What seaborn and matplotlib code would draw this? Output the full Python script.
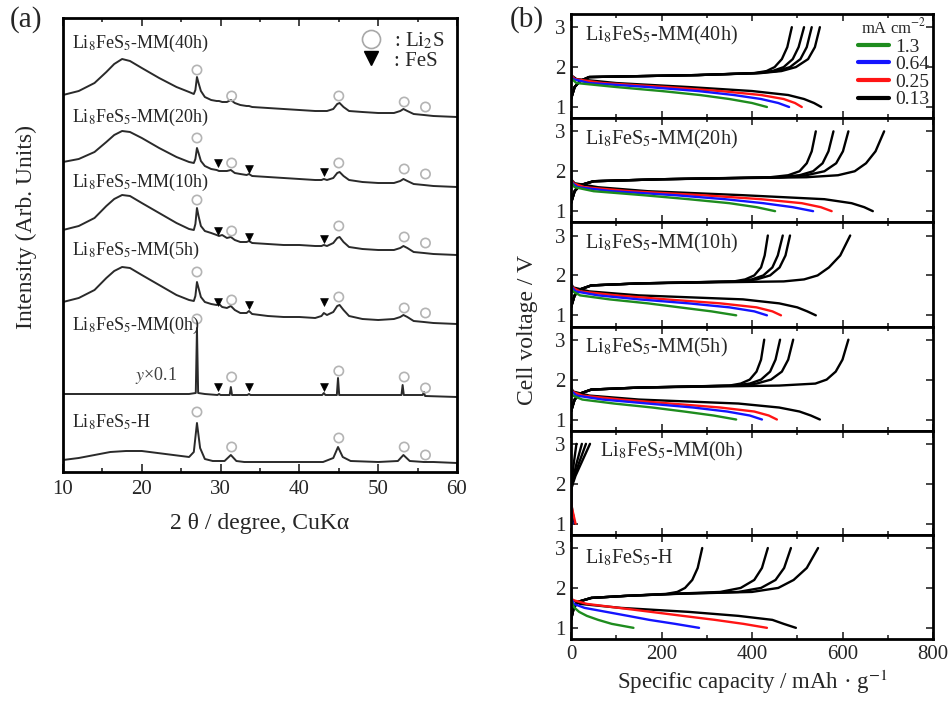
import numpy as np
import pandas as pd
import matplotlib.pyplot as plt
from matplotlib.lines import Line2D
from matplotlib.ticker import MultipleLocator
import seaborn as sns

sns.set_theme(style='ticks')
plt.rcParams['font.family'] = ['Liberation Serif', 'DejaVu Serif']
plt.rcParams['mathtext.fontset'] = 'stix'
plt.rcParams['xtick.direction'] = 'in'
plt.rcParams['ytick.direction'] = 'in'

# ---------------------------------------------------------
# (a) XRD data (arb. units, stacked with offsets)
# ---------------------------------------------------------
xrd_x = [10, 12, 14, 15.5, 16.5, 17.5, 18.5, 20, 22.2, 24.4, 26, 26.6, 26.8, 27.0, 27.2, 27.5,
         28.0, 28.8, 29.5, 29.8, 30.2, 30.8, 31.3, 31.8, 32.5, 33.3, 33.6, 34.0, 36, 38, 40, 42,
         42.8, 43.1, 43.5, 44.3, 44.8, 45.1, 45.6, 46.3, 48, 50, 52, 52.8, 53.2, 53.7, 54.5,
         55.8, 57, 60]
mm40h = [0, 4, 12, 23, 31, 36, 34, 27, 17, 8, 3, 1, 5, 18, 12, 4,
         -2, -5, -6, -6, -7, -7, -5, -8, -10, -11, -11, -12, -13, -14, -15, -16,
         -16, -16, -16, -14, -9, -8, -12, -16, -17, -18, -18, -16, -14, -16, -19,
         -20, -21, -22]
mm20h = [0, 3, 10, 20, 27, 31, 30, 24, 14, 5, 0, -1, 3, 14, 9, 1,
         -4, -7, -8, -9, -9, -9, -8, -11, -12, -13, -12, -14, -15, -16, -17, -18,
         -18, -17, -18, -16, -11, -10, -14, -18, -20, -21, -21, -19, -17, -19, -22,
         -23, -24, -25]
mm10h = [0, 4, 12, 24, 31, 35, 34, 27, 17, 7, 1, 0, 6, 22, 14, 4,
         -1, -3, -5, -6, -5, -8, -7, -10, -12, -12, -11, -13, -14, -15, -15, -16,
         -16, -15, -16, -13, -8, -7, -12, -17, -19, -20, -20, -18, -16, -18, -22,
         -23, -24, -25]
mm5h = [0, 4, 12, 24, 31, 35, 34, 27, 17, 7, 2, 1, 6, 20, 14, 5,
        0, -2, -3, -2, -5, -6, -4, -8, -11, -11, -9, -12, -14, -15, -15, -16,
        -14, -11, -13, -10, -4, -3, -8, -14, -17, -18, -17, -15, -13, -15, -19,
        -20, -21, -22]
xrd_x_0h = [10, 20, 26, 26.85, 27.0, 27.15, 28, 29.6, 29.8, 30.0, 31.15, 31.3, 31.45, 33.4,
            33.6, 33.8, 40, 42.9, 43.1, 43.3, 44.75, 44.9, 45.05, 52.95, 53.1, 53.25, 55.65,
            55.8, 55.95, 60]
mm0h = [0, 0, 0, 1, 66, 1, 0, -1, 0, -1, -1, 7, -1, -1, 0, -1, -1, -1, 1, -1, -1, 16, -1,
        -1, 9, -1, -1, 2, -2, -3]
xrd_x_h = [10, 12, 14, 16, 18, 20, 22, 24, 26, 26.6, 27.0, 27.4, 28, 29, 30.5, 31.3, 32, 33,
           36, 40, 43, 44.3, 44.9, 45.5, 46.5, 50, 52.5, 53.2, 54, 55.8, 57, 60]
heat = [0, 2, 5, 8, 9, 9, 7, 5, 3, 8, 37, 12, 1, -1, -1, 5, -1, -2, -2, -2, -2, 2, 13, 3, -1,
        -2, -1, 5, -1, -2, -2, -3]
offsets = [377, 310, 242, 170, 78, 12]
sample_labels = ['MM(40h)', 'MM(20h)', 'MM(10h)', 'MM(5h)', 'MM(0h)', 'H']
label_y = [429, 355, 290, 222, 147, 50]

li2s_x = [27.0, 31.4, 45.0, 53.3, 56.0]
li2s_y = [[402, 376, 376, 370, 365], [334, 309, 309, 303, 298], [272, 241, 246, 235, 229],
          [200, 172, 175, 164, 159], [153, 95, 101, 95, 84], [60, 25, 34, 25, 17]]
fes_x = [29.7, 33.6, 43.1]
fes_y = [[309, 303, 300], [241, 235, 233], [170, 167, 170], [85, 85, 85]]

# ---------------------------------------------------------
# (b) charge / discharge data: capacity (mAh/g) read at fixed voltages
# ---------------------------------------------------------
currents = ['1.3', '0.64', '0.25', '0.13']
cur_colors = ['#1e8c1e', '#1414ff', '#ff1414', 'black']
dis_v = [2.0, 1.8, 1.7, 1.6, 1.5, 1.4, 1.3, 1.2, 1.1, 1.0]
chg_v = [1.2, 1.5, 1.65, 1.75, 1.8, 1.85, 1.9, 2.0, 2.2, 2.5, 3.0]

dis_40h = [[0, 0, 2, 12, 100, 200, 285, 350, 400, 433],
           [0, 0, 4, 40, 170, 280, 360, 420, 458, 482],
           [0, 0, 8, 70, 210, 330, 420, 470, 495, 510],
           [0, 0, 12, 100, 260, 400, 480, 515, 537, 553]]
chg_40h = [[0, 8, 20, 40, 280, 405, 432, 450, 466, 478, 488],
           [0, 8, 20, 40, 280, 410, 445, 470, 490, 503, 515],
           [0, 8, 20, 40, 280, 415, 455, 484, 507, 521, 532],
           [0, 8, 20, 40, 280, 420, 465, 497, 524, 539, 550]]
dis_20h = [[0, 0, 2, 8, 50, 160, 260, 350, 410, 451],
           [0, 0, 3, 15, 90, 230, 340, 425, 490, 535],
           [0, 0, 5, 30, 130, 290, 420, 510, 552, 576],
           [0, 0, 8, 60, 170, 380, 560, 620, 648, 667]]
chg_20h = [[0, 8, 20, 50, 200, 440, 480, 505, 521, 532, 541],
           [0, 8, 20, 50, 200, 460, 505, 535, 556, 569, 580],
           [0, 8, 20, 50, 200, 470, 520, 560, 586, 601, 613],
           [0, 8, 20, 50, 200, 520, 590, 627, 652, 673, 692]]
dis_10h = [[0, 0, 1, 4, 20, 85, 170, 240, 310, 365],
           [0, 0, 2, 10, 60, 150, 260, 350, 405, 433],
           [0, 0, 3, 20, 100, 210, 330, 410, 445, 464],
           [0, 0, 5, 40, 150, 380, 460, 500, 522, 541]]
chg_10h = [[0, 8, 20, 45, 150, 360, 385, 405, 420, 428, 435],
           [0, 8, 20, 45, 150, 370, 400, 425, 445, 457, 468],
           [0, 8, 20, 45, 150, 375, 410, 440, 461, 474, 484],
           [0, 8, 20, 45, 150, 470, 515, 545, 570, 595, 617]]
dis_5h = [[0, 0, 1, 4, 25, 95, 180, 250, 315, 365],
          [0, 0, 2, 12, 70, 170, 270, 345, 395, 422],
          [0, 0, 3, 25, 110, 220, 330, 405, 437, 455],
          [0, 0, 5, 40, 150, 370, 460, 505, 530, 550]]
chg_5h = [[0, 8, 20, 45, 150, 350, 375, 395, 410, 420, 427],
          [0, 8, 20, 45, 150, 360, 395, 420, 440, 452, 462],
          [0, 8, 20, 45, 150, 370, 410, 442, 466, 480, 491],
          [0, 8, 20, 45, 150, 460, 540, 565, 585, 600, 613]]
dis_0h = [[0, 0, 0, 0, 0, 0, 0, 0, 0.5, 1],
          [0, 0, 0, 0, 0, 0.5, 1, 1.5, 2, 3],
          [0, 0, 0, 0, 1, 2, 4, 6, 8, 10],
          [0, 0, 0, 0, 1, 2, 3, 5, 6, 8]]
chg_0h = [[0, 0, 0, 0, 0, 0, 0.5, 1, 3, 6, 12],
          [0, 0, 0, 0, 0, 0, 1, 2, 6, 12, 24],
          [0, 0, 0, 0, 0, 0.5, 1.5, 3, 8, 17, 33],
          [0, 0, 0, 0, 0, 0.5, 1.5, 4, 10, 22, 42]]
dis_h = [[0, 0, 1, 3, 8, 18, 35, 60, 90, 138],
         [0, 0, 2, 6, 30, 78, 126, 173, 230, 283],
         [0, 0, 3, 35, 106, 177, 247, 318, 381, 433],
         [0, 0, 3, 20, 110, 260, 370, 445, 470, 497]]
chg_h = [[0, 6, 15, 45, 120, 210, 235, 252, 268, 280, 290],
         [0, 6, 15, 45, 120, 220, 330, 375, 405, 422, 435],
         [0, 6, 15, 45, 120, 225, 370, 420, 452, 471, 486],
         [0, 6, 15, 45, 120, 230, 400, 458, 492, 521, 546]]

panel_dis = [dis_40h, dis_20h, dis_10h, dis_5h, dis_0h, dis_h]
panel_chg = [chg_40h, chg_20h, chg_10h, chg_5h, chg_0h, chg_h]
panel_label_x = [30, 30, 30, 30, 64, 30]
panel_label_y = [2.8, 2.8, 2.8, 2.8, 2.8, 2.75]

# ---------------------------------------------------------
# figure
# ---------------------------------------------------------
W, H = 952, 701
fig = plt.figure(figsize=(W / 100, H / 100), dpi=100)

# ---- (a) ----
ax = fig.add_axes([63 / W, 1 - 472 / H, 394 / W, 454 / H])
profiles = [(xrd_x, mm40h), (xrd_x, mm20h), (xrd_x, mm10h), (xrd_x, mm5h),
            (xrd_x_0h, mm0h), (xrd_x_h, heat)]
for (xs, ys), off in zip(profiles, offsets):
    sns.lineplot(x=xs, y=np.array(ys) + off, ax=ax, color='#2a2a2a', lw=1.4,
                 sort=False, estimator=None)
for ys in li2s_y:
    sns.scatterplot(x=li2s_x, y=ys, ax=ax, marker='o', s=45, facecolor='none',
                    edgecolor='#b4b4b4', linewidth=1.2, zorder=3)
for ys in fes_y:
    sns.scatterplot(x=fes_x, y=ys, ax=ax, marker='v', s=32, color='black',
                    edgecolor='black', zorder=3)
for name, ly in zip(sample_labels, label_y):
    ax.text(11.1, ly, 'Li$_8$FeS$_5$-' + name, fontsize=13, va='center', ha='left')
ax.text(21.8, 97, '$y$×0.1', fontsize=13, ha='center', va='center', color='#404040')

ax.set_xlim(10, 60)
ax.set_ylim(0, 454)
ax.set_yticks([])
ax.xaxis.set_major_locator(MultipleLocator(10))
ax.xaxis.set_minor_locator(MultipleLocator(5))
ax.tick_params(axis='x', which='both', top=True, bottom=True, labelsize=15, width=1.2)
ax.tick_params(axis='x', which='major', length=6, pad=6)
ax.tick_params(axis='x', which='minor', length=3)
for s in ax.spines.values():
    s.set_linewidth(2)
    s.set_color('black')
ax.set_xlabel('2 θ / degree, CuKα', fontsize=17, labelpad=10)
ax.set_ylabel('Intensity (Arb. Units)', fontsize=17)
ax.yaxis.set_label_coords(-0.065, 0.54)

leg_handles = [Line2D([], [], marker='o', mfc='none', mec='#a8a8a8', ms=13, ls='none', mew=1.2),
               Line2D([], [], marker='v', color='black', ms=10, ls='none')]
ax.legend(leg_handles, [': Li$_2$S', ': FeS'], loc='upper right', frameon=False,
          fontsize=15, handletextpad=0.1, labelspacing=0.0, borderaxespad=0.2)

fig.text(26 / W, 1 - 20 / H, '(a)', fontsize=21, ha='center', va='center')

# ---- (b) ----
ph = 104.17
axes_b = []
for i in range(6):
    axb = fig.add_axes([571 / W, 1 - (14 + ph * (i + 1)) / H, 362 / W, ph / H])
    axes_b.append(axb)
    for caps in panel_chg[i]:
        sns.lineplot(x=caps, y=chg_v, ax=axb, color='black', lw=1.7, sort=False,
                     estimator=None)
    for caps, col in list(zip(panel_dis[i], cur_colors))[::-1]:
        sns.lineplot(x=caps, y=dis_v, ax=axb, color=col, lw=1.7, sort=False,
                     estimator=None)
    name = sample_labels[i]
    axb.text(panel_label_x[i], panel_label_y[i], 'Li$_8$FeS$_5$-' + name, fontsize=14.5,
             va='center', ha='left')
    axb.set_xlim(0, 800)
    axb.set_ylim(0.72, 3.33)
    axb.set_yticks([1, 2, 3])
    axb.xaxis.set_major_locator(MultipleLocator(200))
    axb.xaxis.set_minor_locator(MultipleLocator(100))
    axb.tick_params(which='both', top=True, right=True, labelsize=15, width=1.2)
    axb.tick_params(which='major', length=5, pad=4)
    axb.tick_params(which='minor', length=3)
    axb.set_ylabel('')
    for s in axb.spines.values():
        s.set_linewidth(2)
        s.set_color('black')
    if i < 5:
        axb.tick_params(axis='x', labelbottom=False)

axes_b[-1].set_xlabel('Specific capacity / mAh · g$^{-1}$', fontsize=16.5, labelpad=3)
fig.text(527 / W, 1 - 330 / H, 'Cell voltage / V', fontsize=17, rotation=90,
         ha='center', va='center')
fig.text(527 / W, 1 - 20 / H, '(b)', fontsize=21, ha='center', va='center')

cur_handles = [Line2D([], [], color=c, lw=3) for c in cur_colors]
leg = axes_b[0].legend(cur_handles, currents, title='mA cm$^{-2}$', loc='upper right',
                       frameon=False, fontsize=14, title_fontsize=12, handlelength=1.6,
                       handletextpad=0.3, labelspacing=0.0, borderaxespad=0.1,
                       borderpad=0.1)

fig.savefig('out.png', dpi=100)
